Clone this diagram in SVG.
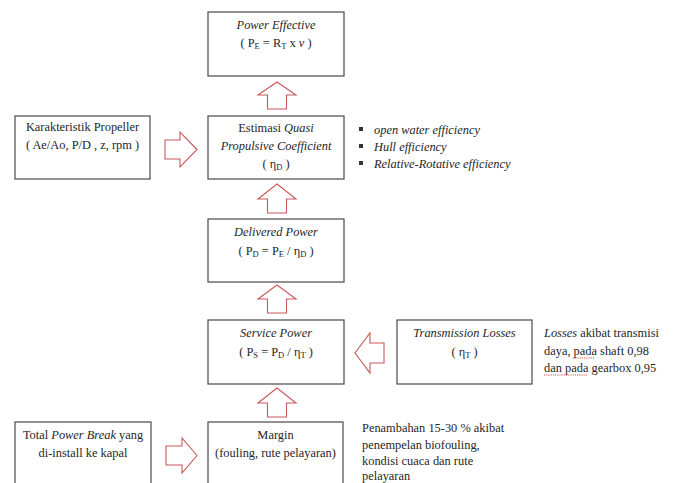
<svg xmlns="http://www.w3.org/2000/svg" width="673" height="483" viewBox="0 0 673 483">
<style>
  .box{fill:#ffffff;stroke:#4a4a4a;stroke-width:1.2}
  .arr{fill:#ffffff;stroke:#c9585a;stroke-width:1.1;stroke-linejoin:miter}
  text{font-family:"Liberation Serif","Times New Roman",serif;font-size:12.4px;fill:#262626}
  .c{text-anchor:middle}
  .i{font-style:italic}
  .s{font-size:8.5px}
  .sq{stroke:#d04040;stroke-width:0.9;fill:none;stroke-dasharray:1.2 1}
</style>
<rect width="673" height="483" fill="#ffffff"/>

<g id="power-effective">
  <rect class="box" x="208" y="12" width="136" height="64"/>
  <text class="c i" x="276" y="29">Power Effective</text>
  <text class="c" x="276" y="47">( P<tspan class="s" dy="2">E</tspan><tspan dy="-2"> = R</tspan><tspan class="s" dy="2">T</tspan><tspan dy="-2"> x </tspan><tspan class="i">v</tspan> )</text>
</g>

<g id="quasi-propulsive">
  <rect class="box" x="208" y="116" width="136" height="63"/>
  <text class="c" x="276" y="132">Estimasi <tspan class="i">Quasi</tspan></text>
  <text class="c i" x="276" y="150">Propulsive Coefficient</text>
  <text class="c" x="276" y="168">( η<tspan class="s" dy="2">D</tspan><tspan dy="-2"> )</tspan></text>
</g>

<g id="efficiency-list">
  <rect x="359" y="127" width="4" height="4" fill="#333"/>
  <rect x="359" y="144" width="4" height="4" fill="#333"/>
  <rect x="359" y="161" width="4" height="4" fill="#333"/>
  <text class="i" x="374" y="134">open water efficiency</text>
  <text class="i" x="374" y="151">Hull efficiency</text>
  <text class="i" x="374" y="168">Relative-Rotative efficiency</text>
</g>

<g id="karakteristik-propeller">
  <rect class="box" x="15" y="116" width="135" height="63"/>
  <text class="c" x="82.5" y="131">Karakteristik Propeller</text>
  <text class="c" x="82.5" y="149">( Ae/Ao, P/D , z, rpm )</text>
</g>

<g id="delivered-power">
  <rect class="box" x="208" y="219" width="136" height="63"/>
  <text class="c i" x="276" y="236">Delivered Power</text>
  <text class="c" x="276" y="255">( P<tspan class="s" dy="2">D</tspan><tspan dy="-2"> = P</tspan><tspan class="s" dy="2">E</tspan><tspan dy="-2"> / η</tspan><tspan class="s" dy="2">D</tspan><tspan dy="-2"> )</tspan></text>
</g>

<g id="service-power">
  <rect class="box" x="208" y="320" width="136" height="64"/>
  <text class="c i" x="276" y="337">Service Power</text>
  <text class="c" x="276" y="356">( P<tspan class="s" dy="2">S</tspan><tspan dy="-2"> = P</tspan><tspan class="s" dy="2">D</tspan><tspan dy="-2"> / η</tspan><tspan class="s" dy="2">T</tspan><tspan dy="-2"> )</tspan></text>
</g>

<g id="transmission-losses">
  <rect class="box" x="397" y="320" width="135" height="64"/>
  <text class="c i" x="464.5" y="337">Transmission Losses</text>
  <text class="c" x="464.5" y="356">( η<tspan class="s" dy="2">T</tspan><tspan dy="-2"> )</tspan></text>
</g>

<g id="losses-note">
  <text x="544" y="337"><tspan class="i">Losses</tspan> akibat transmisi</text>
  <text x="544" y="355">daya, pada shaft 0,98</text>
  <text x="544" y="372">dan pada gearbox 0,95</text>
  <path class="sq" d="M573 358 L595 358"/>
  <path class="sq" d="M544 375 L587 375"/>
</g>

<g id="total-power-break">
  <rect class="box" x="15" y="422" width="136" height="70"/>
  <text class="c" x="83" y="439">Total <tspan class="i">Power Break</tspan> yang</text>
  <text class="c" x="83" y="457">di-install ke kapal</text>
</g>

<g id="margin">
  <rect class="box" x="208" y="422" width="135" height="70"/>
  <text class="c" x="275.5" y="439">Margin</text>
  <text class="c" x="275.5" y="457">(fouling, rute pelayaran)</text>
</g>

<g id="margin-note">
  <text x="362" y="432">Penambahan 15-30 % akibat</text>
  <text x="362" y="449">penempelan biofouling,</text>
  <text x="362" y="465">kondisi cuaca dan rute</text>
  <text x="362" y="480">pelayaran</text>
</g>

<g id="connectors">
  <polygon class="arr" points="277,82 296,95 286.5,95 286.5,109 267.5,109 267.5,95 258,95"/>
  <polygon class="arr" points="277,184 296,199 286.5,199 286.5,213 267.5,213 267.5,199 258,199"/>
  <polygon class="arr" points="277,285 296,299 286.5,299 286.5,313 267.5,313 267.5,299 258,299"/>
  <polygon class="arr" points="277,388 296,403 286.5,403 286.5,417 267.5,417 267.5,403 258,403"/>
  <polygon class="arr" points="197,149.5 180,132 180,140 165,140 165,159 180,159 180,167"/>
  <polygon class="arr" points="197,455.5 182,438 182,446 166,446 166,465 182,465 182,473"/>
  <polygon class="arr" points="355,353 370,333 370,343 384,343 384,363 370,363 370,373"/>
</g>
</svg>
